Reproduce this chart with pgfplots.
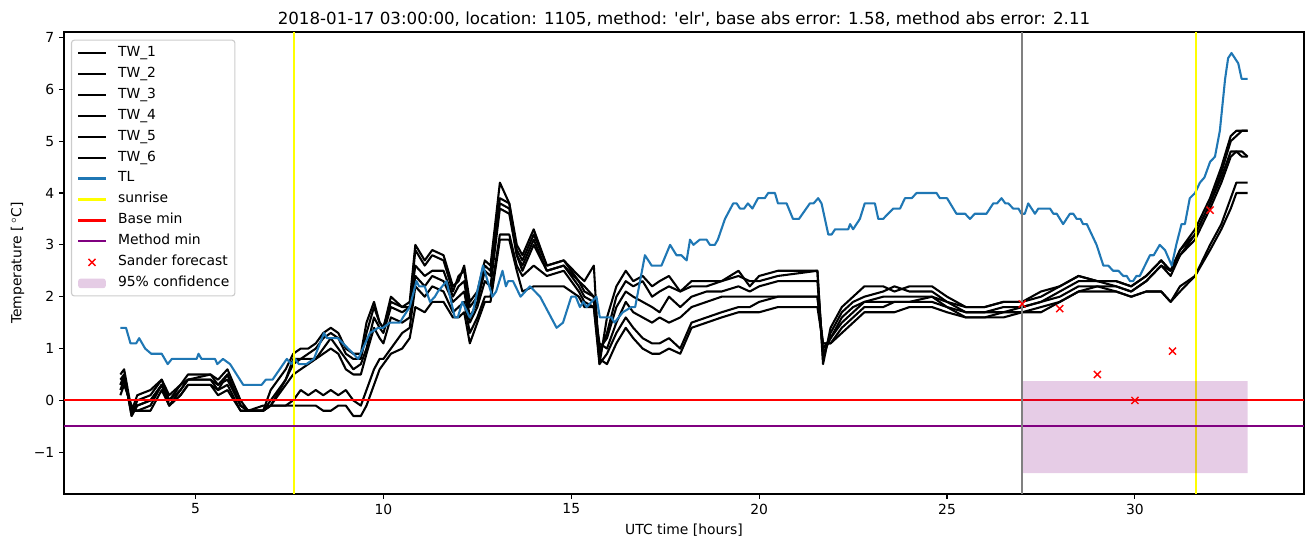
\documentclass[border=0pt]{standalone}
\usepackage{fontspec}
\setmainfont{DejaVu Sans}
\usepackage{pgfplots}
\pgfplotsset{compat=1.18}
\usepackage{pgfplotstable}
\definecolor{tlblue}{HTML}{1F77B4}
\definecolor{mplpurple}{RGB}{128,0,128}
\definecolor{mplgray}{RGB}{128,128,128}
\definecolor{mplyellow}{RGB}{255,255,0}
\definecolor{legframe}{RGB}{204,204,204}
\pgfplotsset{
  linelegend/.style={legend image code/.code={\draw[line width=1.5pt,##1] (0pt,0pt) -- (20pt,0pt);}},
  markleg/.style={legend image code/.code={\draw[##1] plot coordinates {(10pt,0pt)};}},
  arealeg/.style={legend image code/.code={\path[fill=mplpurple, fill opacity=0.2] (0pt,-3.5pt) rectangle (20pt,3.5pt);}},
}

\pgfplotstableread{
x a b c d e f
3.0 0.5 0.4 0.3 0.2 0.1 0.3
3.1 0.6 0.5 0.5 0.4 0.3 0.4
3.3 -0.2 -0.3 -0.3 -0.2 -0.1 -0.2
3.45 0.1 0.0 -0.1 -0.2 -0.2 -0.1
3.8 0.2 0.1 0.0 -0.1 -0.2 0.0
4.1 0.4 0.4 0.3 0.3 0.2 0.3
4.3 0.1 0.0 -0.1 -0.1 -0.1 0.0
4.6 0.3 0.3 0.2 0.1 0.1 0.2
4.8 0.5 0.4 0.4 0.3 0.3 0.4
5.4 0.5 0.5 0.4 0.3 0.3 0.4
5.6 0.4 0.3 0.3 0.2 0.1 0.2
5.85 0.6 0.5 0.4 0.3 0.2 0.5
6.2 0.0 -0.1 -0.1 -0.2 -0.2 -0.1
6.4 -0.2 -0.2 -0.2 -0.2 -0.2 -0.2
6.8 -0.2 -0.2 -0.2 -0.2 -0.2 -0.1
7.0 0.2 0.0 -0.1 -0.1 -0.1 -0.1
7.4 0.6 0.4 0.4 0.3 -0.1 -0.1
7.6 0.9 0.8 0.7 0.5 0.0 -0.1
7.8 1.0 0.8 0.8 0.6 0.2 -0.1
8.0 1.0 0.9 0.8 0.7 0.1 -0.1
8.2 1.1 1.0 0.8 0.8 0.2 -0.1
8.4 1.3 1.2 1.0 0.9 0.1 -0.2
8.6 1.4 1.3 1.2 1.0 0.2 -0.2
8.8 1.3 1.2 1.0 0.9 0.1 -0.1
9.0 1.0 0.9 0.8 0.6 0.2 -0.1
9.2 0.9 0.8 0.6 0.5 0.0 -0.3
9.4 0.9 0.8 0.7 0.5 -0.1 -0.3
9.55 1.5 1.3 1.0 0.9 0.2 -0.1
9.75 1.9 1.8 1.6 1.4 0.6 0.3
9.9 1.5 1.5 1.4 1.2 0.8 0.6
10.0 1.4 1.4 1.3 1.1 0.8 0.7
10.2 2.0 1.9 1.8 1.6 1.0 0.9
10.5 1.8 1.8 1.7 1.5 1.3 1.0
10.7 1.9 1.8 1.8 1.6 1.4 1.2
10.85 3.0 2.9 2.6 2.4 2.2 1.8
11.1 2.7 2.6 2.4 2.2 2.0 1.7
11.3 2.9 2.8 2.5 2.4 2.2 1.9
11.6 2.8 2.7 2.5 2.3 2.1 1.9
11.85 2.2 2.1 2.0 1.9 1.7 1.6
12.0 2.3 2.4 2.2 2.0 1.8 1.6
12.15 2.6 2.5 2.3 2.1 1.9 1.7
12.3 1.9 1.8 1.6 1.5 1.3 1.1
12.5 2.1 2.0 1.9 1.8 1.6 1.5
12.7 2.7 2.6 2.5 2.3 2.0 1.9
12.85 2.6 2.5 2.4 2.2 2.0 1.9
13.1 4.2 3.9 3.8 3.7 3.2 3.1
13.35 3.8 3.8 3.7 3.6 3.2 3.1
13.55 3.0 2.9 2.8 2.8 2.6 2.5
13.7 2.8 2.7 2.6 2.5 2.4 2.1
14.0 3.3 3.2 3.1 3.0 2.6 2.2
14.35 2.6 2.6 2.5 2.5 2.4 2.2
14.8 2.7 2.7 2.6 2.6 2.5 2.2
15.2 2.4 2.3 2.3 2.2 2.1 2.0
15.35 2.3 2.2 2.1 2.0 1.9 1.8
15.6 2.6 2.0 2.0 1.9 1.8 1.8
15.75 0.7 0.9 1.0 1.1 0.7 0.8
15.95 1.6 1.3 1.2 1.0 0.9 0.7
16.2 2.2 2.0 1.8 1.5 1.3 1.1
16.45 2.5 2.3 2.1 1.9 1.6 1.4
16.65 2.3 2.2 2.0 1.7 1.4 1.2
16.9 2.4 2.3 1.9 1.6 1.2 1.0
17.15 2.2 2.0 1.8 1.5 1.1 0.9
17.35 2.3 2.1 1.7 1.6 1.1 0.9
17.6 2.4 2.2 2.0 1.5 1.2 1.0
17.9 2.1 2.1 1.8 1.6 1.0 0.9
18.2 2.3 2.2 2.0 1.8 1.5 1.4
18.6 2.3 2.2 2.1 1.9 1.6 1.5
19.0 2.3 2.3 2.1 2.0 1.7 1.6
19.45 2.5 2.4 2.2 2.0 1.8 1.7
19.75 2.2 2.3 2.1 2.0 1.8 1.7
20.0 2.4 2.3 2.2 2.0 1.9 1.7
20.5 2.5 2.4 2.3 2.0 2.0 1.8
21.55 2.5 2.5 2.3 2.0 2.0 1.8
21.7 0.7 0.8 0.9 1.0 1.1 1.1
21.9 1.4 1.3 1.2 1.2 1.1 1.1
22.2 1.8 1.7 1.6 1.5 1.4 1.3
22.5 2.0 1.9 1.8 1.7 1.6 1.5
22.8 2.2 2.0 1.9 1.9 1.8 1.7
23.3 2.2 2.1 2.0 1.9 1.8 1.7
23.6 2.1 2.2 2.0 1.9 1.9 1.7
24.0 2.2 2.1 2.0 1.9 1.9 1.8
24.6 2.2 2.1 2.0 2.0 1.9 1.8
25.0 2.0 1.9 1.9 1.8 1.8 1.7
25.5 1.8 1.8 1.7 1.7 1.6 1.6
26.0 1.8 1.8 1.7 1.7 1.6 1.6
26.5 1.9 1.9 1.8 1.7 1.7 1.6
27.0 1.9 1.9 1.8 1.8 1.7 1.7
27.5 2.1 2.0 1.9 1.9 1.8 1.7
28.0 2.2 2.2 2.1 2.0 1.9 1.9
28.5 2.4 2.4 2.3 2.2 2.1 2.1
29.0 2.3 2.3 2.3 2.2 2.2 2.1
29.5 2.3 2.3 2.2 2.2 2.1 2.1
29.9 2.2 2.2 2.1 2.1 2.0 2.0
30.3 2.4 2.4 2.3 2.3 2.1 2.1
30.7 2.7 2.7 2.6 2.6 2.1 2.1
30.95 2.5 2.5 2.5 2.4 1.9 1.9
31.2 2.9 2.9 2.8 2.8 2.2 2.1
31.6 3.3 3.2 3.2 3.1 2.4 2.4
32.0 3.9 3.8 3.8 3.7 3.0 2.9
32.3 4.5 4.4 4.3 4.2 3.4 3.3
32.55 5.1 5.0 4.8 4.7 3.9 3.7
32.7 5.2 5.1 4.8 4.8 4.2 4.0
32.85 5.2 5.2 4.8 4.7 4.2 4.0
33.0 5.2 5.2 4.7 4.7 4.2 4.0
}\twdata

\begin{document}
\begin{tikzpicture}
\begin{axis}[
  width=892.8pt, height=332.64pt, scale only axis,
  xmin=1.5, xmax=34.5, ymin=-1.805, ymax=7.105,
  axis line style={line width=0.8pt},
  tick align=outside, xtick pos=bottom, ytick pos=left,
  major tick length=3.5pt,
  every tick/.style={black, line width=0.8pt},
  xtick={5,10,15,20,25,30}, xticklabels={5,10,15,20,25,30},
  ytick={-1,0,1,2,3,4,5,6,7}, yticklabels={−1,0,1,2,3,4,5,6,7},
  tick label style={font=\fontsize{10}{12}\selectfont},
  /pgf/number format/assume math mode=true,
  xlabel={UTC time [hours]},
  ylabel={Temperature [\,$^\circ$C]},
  label style={font=\fontsize{10}{12}\selectfont},
  title={2018-01-17 03:00:00, location: 1105, method: \textquotesingle elr\textquotesingle, base abs error: 1.58, method abs error: 2.11},
  title style={font=\fontsize{12}{14}\selectfont, yshift=-5.5pt},
  every axis plot/.append style={line width=1.5pt, line join=round},
  linelegend,
  legend cell align=left,
  legend style={at={(0,1)}, anchor=north west, xshift=5pt, yshift=-5.5pt,
    draw=legframe, line width=0.8pt, rounded corners=2pt, fill=white, fill opacity=0.8, text opacity=1,
    font=\fontsize{10}{12}\selectfont,
    nodes={inner sep=0pt, text height=7.5pt, text depth=2.5pt},
    row sep=5.1pt, inner xsep=4pt, inner ysep=4pt,
    /tikz/every odd column/.append style={column sep=8pt}},
]
\addplot[black] table[x=x,y=a]{\twdata}; \addlegendentry{TW\_1}
\addplot[black] table[x=x,y=b]{\twdata}; \addlegendentry{TW\_2}
\addplot[black] table[x=x,y=c]{\twdata}; \addlegendentry{TW\_3}
\addplot[black] table[x=x,y=d]{\twdata}; \addlegendentry{TW\_4}
\addplot[black] table[x=x,y=e]{\twdata}; \addlegendentry{TW\_5}
\addplot[black] table[x=x,y=f]{\twdata}; \addlegendentry{TW\_6}
\addplot[tlblue] coordinates {
(3.0,1.4)(3.15,1.4)(3.27,1.1)(3.42,1.1)(3.5,1.2)(3.66,1.0)(3.82,0.9)(4.1,0.9)(4.26,0.7)(4.37,0.8)
(5.03,0.8)(5.08,0.9)(5.16,0.8)(5.52,0.8)(5.58,0.7)(5.73,0.8)(5.92,0.7)(6.27,0.3)(6.76,0.3)(6.87,0.4)
(7.05,0.4)(7.43,0.8)(7.55,0.7)(7.65,0.8)(7.75,0.7)(7.95,0.7)(8.15,0.8)(8.42,1.3)(8.5,1.2)(8.79,1.2)
(9.06,1.0)(9.2,0.9)(9.33,0.8)(9.64,1.3)(9.86,1.4)(9.99,1.4)(10.17,1.5)(10.44,1.5)(10.52,1.6)(10.7,1.8)
(10.88,2.3)(10.95,2.2)(11.1,2.2)(11.24,1.9)(11.37,2.0)(11.45,2.1)(11.68,2.3)(11.9,1.6)(11.98,1.6)(12.1,1.9)
(12.3,1.6)(12.38,1.7)(12.65,2.6)(12.9,2.0)(13.0,2.1)(13.17,2.5)(13.26,2.2)(13.32,2.3)(13.45,2.3)(13.65,2.0)
(13.9,2.2)(14.17,2.0)(14.61,1.4)(14.78,1.5)(15.0,2.0)(15.12,2.0)(15.23,1.8)(15.32,1.9)(15.41,1.8)(15.67,2.0)
(15.76,1.6)(16.07,1.6)(16.15,1.5)(16.37,1.7)(16.6,1.8)(16.7,1.8)(16.96,2.8)(17.14,2.6)(17.4,2.6)(17.63,3.0)
(17.8,2.8)(17.93,2.8)(18.07,2.7)(18.16,3.1)(18.25,3.0)(18.42,3.1)(18.6,3.1)(18.69,3.0)(18.82,3.0)(18.9,3.1)
(19.09,3.5)(19.31,3.8)(19.4,3.8)(19.49,3.7)(19.6,3.7)(19.7,3.8)(19.82,3.7)(19.97,3.9)(20.15,3.9)(20.24,4.0)
(20.42,4.0)(20.5,3.8)(20.73,3.8)(20.9,3.5)(21.06,3.5)(21.35,3.8)(21.45,3.8)(21.57,3.9)(21.66,3.8)(21.84,3.2)
(21.93,3.2)(22.02,3.3)(22.37,3.3)(22.42,3.4)(22.5,3.3)(22.68,3.5)(22.81,3.8)(23.08,3.8)(23.17,3.5)(23.3,3.5)
(23.43,3.6)(23.57,3.7)(23.75,3.7)(23.88,3.9)(24.06,3.9)(24.19,4.0)(24.72,4.0)(24.81,3.9)(25.0,3.9)(25.25,3.6)
(25.48,3.6)(25.61,3.5)(25.74,3.6)(26.05,3.6)(26.23,3.8)(26.33,3.8)(26.45,3.9)(26.55,3.8)(26.63,3.8)(26.76,3.7)
(26.9,3.7)(26.98,3.6)(27.07,3.6)(27.16,3.8)(27.34,3.6)(27.43,3.7)(27.74,3.7)(27.83,3.6)(27.92,3.6)(28.09,3.4)
(28.27,3.6)(28.36,3.6)(28.45,3.5)(28.55,3.5)(28.62,3.4)(28.72,3.4)(28.98,3.0)(29.16,2.6)(29.29,2.6)(29.42,2.5)
(29.56,2.5)(29.69,2.4)(29.78,2.4)(29.87,2.3)(29.95,2.3)(30.04,2.4)(30.13,2.4)(30.4,2.8)(30.5,2.8)(30.66,3.0)
(30.8,2.9)(30.98,2.6)(31.1,3.0)(31.24,3.4)(31.33,3.4)(31.46,3.9)(31.6,4.0)(31.73,4.2)(31.85,4.3)(32.0,4.6)
(32.13,4.7)(32.26,5.2)(32.4,6.2)(32.48,6.6)(32.57,6.7)(32.75,6.5)(32.84,6.2)(33.0,6.2)
}; \addlegendentry{TL}
\addplot[mplyellow] coordinates {(7.62,-1.805) (7.62,7.105)}; \addlegendentry{sunrise}
\addplot[mplyellow, forget plot] coordinates {(31.62,-1.805) (31.62,7.105)};
\addplot[red] coordinates {(1.5,0) (34.5,0)}; \addlegendentry{Base min}
\addplot[mplpurple] coordinates {(1.5,-0.5) (34.5,-0.5)}; \addlegendentry{Method min}
\addplot[red, only marks, mark=x, mark size=3.6pt, line width=1pt, markleg]
  coordinates {(27,1.86) (28,1.77) (29,0.5) (30,0.0) (31,0.95) (32,3.67)};
\addlegendentry{Sander forecast}
\addplot[draw=none, fill=mplpurple, fill opacity=0.2, arealeg]
  coordinates {(27,-1.4) (33,-1.4) (33,0.37) (27,0.37) (27,-1.4)};
\addlegendentry{95\% confidence}
\addplot[mplgray, forget plot] coordinates {(27,-1.805) (27,7.105)};
\end{axis}
\pgfresetboundingbox
\path[use as bounding box] ([xshift=-46.08pt, yshift=-38.16pt]current axis.south west) rectangle ([xshift=6.48pt, yshift=23.04pt]current axis.north east);
\end{tikzpicture}
\end{document}
